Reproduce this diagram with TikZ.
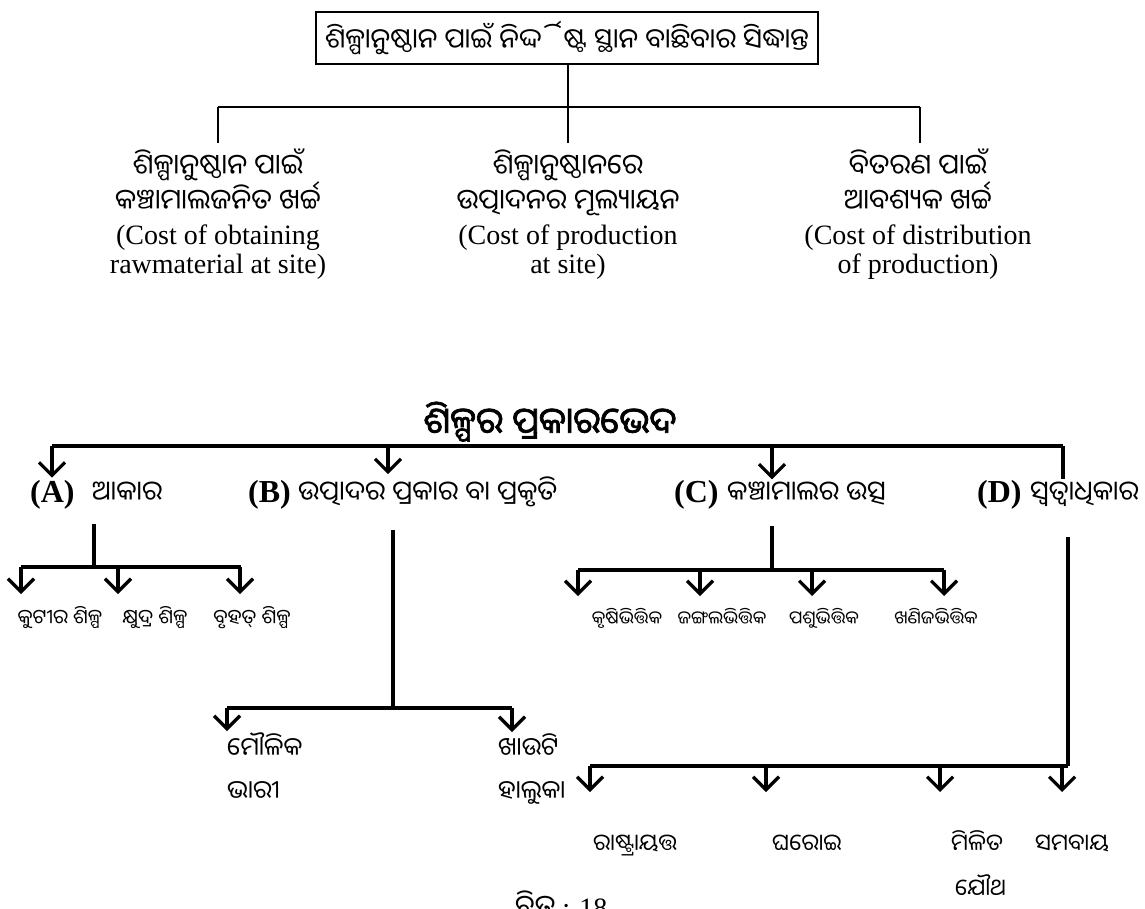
\documentclass[tikz,border=0pt]{standalone}
\usepackage{fontspec}
\setmainfont{Liberation Serif}
\newfontfamily\ori[Script=Oriya]{Noto Sans Oriya UI}
\newfontfamily\orib[Script=Oriya,FakeBold=2]{Noto Sans Oriya UI}
\usetikzlibrary{arrows.meta,calc}
\tikzset{
  thin line/.style={line width=2.4pt},
  ln/.style={line width=3.2pt},
  arr/.style={line width=3.2pt,-{Straight Barb[length=13pt,width=26pt]}},
  tline/.style={inner sep=0pt,anchor=base,font=\ori\fontsize{28}{30}\selectfont},
  eline/.style={inner sep=0pt,anchor=base,font=\fontsize{28}{30}\selectfont},
  rowlbl/.style={inner sep=0pt,anchor=base west,font=\ori\fontsize{27}{30}\selectfont},
  letter/.style={inner sep=0pt,anchor=base west,font=\bfseries\fontsize{32}{34}\selectfont},
  small/.style={inner sep=0pt,anchor=base,font=\ori\fontsize{20}{22}\selectfont},
  csmall/.style={inner sep=0pt,anchor=base,font=\ori\fontsize{18}{20}\selectfont},
  mid/.style={inner sep=0pt,anchor=base west,font=\ori\fontsize{25}{27}\selectfont},
  dl/.style={inner sep=0pt,anchor=base west,font=\ori\fontsize{23}{25}\selectfont},
}
\begin{document}
\begin{tikzpicture}[x=1pt,y=-1pt]
\useasboundingbox[fill=white] (0,0) rectangle (1145,908);

% ---------- top part ----------
\node[draw,thin line,minimum width=502pt,minimum height=52pt,inner sep=0pt,font=\ori\fontsize{27.5}{29}\selectfont]
  (top) at (567,38) {ଶିଳ୍ପାନୁଷ୍ଠାନ ପାଇଁ ନିର୍ଦ୍ଦିଷ୍ଟ ସ୍ଥାନ ବାଛିବାର ସିଦ୍ଧାନ୍ତ};
\coordinate (j0) at (568,107);
\coordinate (jL) at (218,107);
\coordinate (jR) at (920,107);

\node[tline] (c1a) at (218,176) {ଶିଳ୍ପାନୁଷ୍ଠାନ ପାଇଁ};
\node[tline] (c1b) at (218,211) {କଞ୍ଚାମାଲଜନିତ ଖର୍ଚ୍ଚ};
\node[eline] (c1c) at (218,244) {(Cost of obtaining};
\node[eline] (c1d) at (218,273) {rawmaterial at site)};
\node[tline] (c2a) at (568,176) {ଶିଳ୍ପାନୁଷ୍ଠାନରେ};
\node[tline] (c2b) at (568,211) {ଉତ୍ପାଦନର ମୂଲ୍ୟାୟନ};
\node[eline] (c2c) at (568,244) {(Cost of production};
\node[eline] (c2d) at (568,273) {at site)};
\node[tline] (c3a) at (918,176) {ବିତରଣ ପାଇଁ};
\node[tline] (c3b) at (918,211) {ଆବଶ୍ୟକ ଖର୍ଚ୍ଚ};
\node[eline] (c3c) at (918,244) {(Cost of distribution};
\node[eline] (c3d) at (918,273) {of production)};

\coordinate (e1) at (218,143);
\coordinate (e2) at (568,143);
\coordinate (e3) at (920,143);
\draw[thin line] (top.south -| j0) -- (j0);
\draw[thin line] (jL) -- (jR);
\draw[thin line] (jL) -- (e1);
\draw[thin line] (j0) -- (e2);
\draw[thin line] (jR) -- (e3);

% ---------- bottom part ----------
\node[inner sep=0pt,anchor=base,font=\orib\fontsize{36}{38}\selectfont] (t2h) at (550,436) {ଶିଳ୍ପର ପ୍ରକାରଭେଦ};
\coordinate (h1) at (52,446);
\coordinate (h4) at (1063,446);
\coordinate (hB) at (388,446);
\coordinate (hC) at (772,446);

\node[letter] (lA) at (30,502) {(A)};
\node[rowlbl] (nA) at (92,502) {ଆକାର};
\node[letter] (lB) at (248,502) {(B)};
\node[rowlbl] (nB) at (298,502) {ଉତ୍ପାଦର ପ୍ରକାର ବା ପ୍ରକୃତି};
\node[letter] (lC) at (674,502) {(C)};
\node[rowlbl] (nC) at (727,502) {କଞ୍ଚାମାଲର ଉତ୍ସ};
\node[letter] (lD) at (977,502) {(D)};
\node[rowlbl] (nD) at (1030,502) {ସ୍ୱତ୍ୱାଧିକାର};

\draw[ln] (h1) -- (h4);
\draw[arr] (h1) -- ($(h1 |- lA.north)+(0,-2)$);
\draw[arr] (hB) -- ($(hB |- nB.north)+(0,-2)$);
\draw[arr] (hC) -- ($(hC |- nC.north)+(0,-2)$);
\draw[ln] (h4) -- ($(h4 |- nD.north)+(0,-2)$);

% A subtree
\coordinate (at) at (94,524);
\coordinate (aj) at (94,567);
\coordinate (a1) at (21,567);
\coordinate (a2) at (118,567);
\coordinate (a3) at (241,567);
\node[small] (k1) at (60,625) {କୁଟୀର ଶିଳ୍ପ};
\node[small] (k2) at (155,625) {କ୍ଷୁଦ୍ର ଶିଳ୍ପ};
\node[small] (k3) at (252,625) {ବୃହତ୍ ଶିଳ୍ପ};
\coordinate (a1e) at (21,594);
\coordinate (a2e) at (118,594);
\coordinate (a3e) at (240,594);
\draw[ln] (at) -- (aj);
\draw[ln] (a1) -- (a3);
\draw[arr] (a1) -- (a1e);
\draw[arr] (a2) -- (a2e);
\draw[arr] (a3 -| a3e) -- (a3e);

% B subtree
\coordinate (bt) at (393,530);
\coordinate (bj) at (393,708);
\coordinate (b1) at (227,708);
\coordinate (b2) at (512,708);
\node[mid] (m1) at (227,757) {ମୌଳିକ};
\node[mid] (m2) at (227,800) {ଭାରୀ};
\node[mid] (m3) at (498,757) {ଖାଉଟି};
\node[mid] (m4) at (498,800) {ହାଲୁକା};
\draw[ln] (bt) -- (bj);
\draw[ln] (b1) -- (b2);
\draw[arr] (b1) -- ($(b1 |- m1.north)+(0,-1)$);
\draw[arr] (b2) -- ($(b2 |- m3.north)+(0,-1)$);

% C subtree
\coordinate (ct) at (772,526);
\coordinate (cj) at (772,570);
\coordinate (c1) at (578,570);
\coordinate (c2) at (700,570);
\coordinate (c3) at (812,570);
\coordinate (c4) at (944,570);
\node[csmall] (g1) at (627,625) {କୃଷିଭିତ୍ତିକ};
\node[csmall] (g2) at (722,625) {ଜଙ୍ଗଲଭିତ୍ତିକ};
\node[csmall] (g3) at (824,625) {ପଶୁଭିତ୍ତିକ};
\node[csmall] (g4) at (936,625) {ଖଣିଜଭିତ୍ତିକ};
\coordinate (c1e) at (578,596);
\coordinate (c2e) at (700,596);
\coordinate (c3e) at (812,596);
\coordinate (c4e) at (944,596);
\draw[ln] (ct) -- (cj);
\draw[ln] (c1) -- (c4);
\draw[arr] (c1) -- (c1e);
\draw[arr] (c2) -- (c2e);
\draw[arr] (c3) -- (c3e);
\draw[arr] (c4) -- (c4e);

% D subtree
\coordinate (dt) at (1068,537);
\coordinate (dj) at (1068,766);
\coordinate (d1) at (590,766);
\coordinate (d2) at (766,766);
\coordinate (d3) at (940,766);
\coordinate (d4) at (1062,766);
\coordinate (f1) at (590,792);
\coordinate (f2) at (766,792);
\coordinate (f3) at (940,792);
\coordinate (f4) at (1062,792);
\node[dl] (r1) at (593,852) {ରାଷ୍ଟ୍ରାୟତ୍ତ};
\node[dl] (r2) at (772,852) {ଘରୋଇ};
\node[dl] (r3) at (951,852) {ମିଳିତ};
\node[dl] (r4) at (955,897) {ଯୌଥ};
\node[dl] (r5) at (1035,852) {ସମବାୟ};
\draw[ln] (dt) -- (dj);
\draw[ln] (d1) -- (dj);
\draw[arr] (d1) -- (f1);
\draw[arr] (d2) -- (f2);
\draw[arr] (d3) -- (f3);
\draw[arr] (d4) -- (f4);

% caption
\node[inner sep=0pt,anchor=base west,font=\fontsize{28}{30}\selectfont] (cap) at (515,917) {{\ori ଚିତ୍ର} : 18};
\end{tikzpicture}
\end{document}
